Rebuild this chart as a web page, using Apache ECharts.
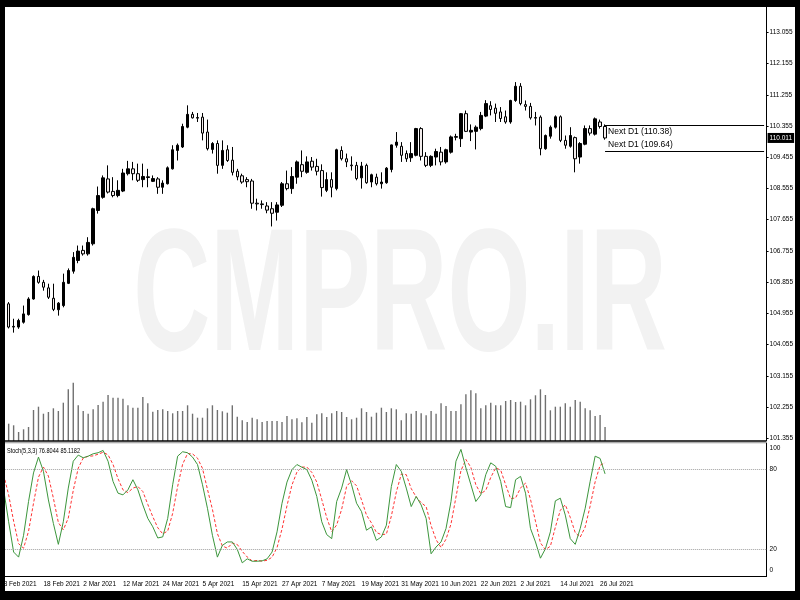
<!DOCTYPE html>
<html><head><meta charset="utf-8">
<script src="https://cdn.jsdelivr.net/npm/echarts@6/dist/echarts.min.js"></script>
<style>html,body{margin:0;padding:0;background:#000}#c{width:800px;height:600px}</style>
</head><body><div id="c"></div><script>
// ---- data (daily bars, 8 Feb 2021 = slot 0) ----
const tickLabels = ['8 Feb 2021','18 Feb 2021','2 Mar 2021','12 Mar 2021','24 Mar 2021','5 Apr 2021','15 Apr 2021','27 Apr 2021','7 May 2021','19 May 2021','31 May 2021','10 Jun 2021','22 Jun 2021','2 Jul 2021','14 Jul 2021','26 Jul 2021'];
const opens = [null,
105.23,104.56,104.56,104.70,104.92,105.37,106.02,105.85,105.69,105.39,
105.06,105.18,105.82,106.17,106.48,106.77,106.67,106.96,107.92,108.30,
108.83,108.47,108.35,108.48,108.98,109.12,108.98,108.81,108.87,108.76,
108.83,108.59,108.69,109.12,109.65,109.75,110.32,110.69,110.60,110.61,
110.18,109.68,109.85,109.22,109.67,109.37,109.05,108.92,108.81,108.77,
108.13,108.11,108.05,107.97,107.87,108.07,108.69,108.55,108.88,109.24,
109.02,109.34,109.19,109.07,108.50,108.81,108.55,109.65,109.41,109.23,
109.22,108.86,109.22,108.74,108.88,108.69,108.72,109.10,109.80,109.77,
109.56,109.44,109.51,110.28,109.48,109.22,109.46,109.60,109.32,109.60,
110.03,109.99,110.71,110.18,110.20,110.28,110.64,110.94,110.87,110.76,
110.62,110.47,111.09,111.50,110.97,110.92,110.60,110.61,109.70,110.06,
110.32,110.62,109.94,109.77,110.02,109.46,109.83,110.28,110.12,110.47,110.34];
const highs = [null,
105.28,104.80,104.80,105.18,105.42,106.05,106.19,105.92,105.81,105.81,
105.28,106.10,106.25,106.72,106.91,106.91,107.15,108.00,108.61,108.93,
109.22,108.88,108.79,109.12,109.35,109.32,109.27,109.27,109.12,108.93,
108.88,108.79,109.19,109.80,109.85,110.42,110.95,110.76,110.73,110.73,
110.54,109.89,109.94,109.94,109.80,109.75,109.12,108.98,108.88,108.83,
108.26,108.21,108.16,108.16,108.16,108.74,109.07,109.17,109.36,109.65,
109.48,109.46,109.41,109.25,109.02,109.02,109.70,109.77,109.56,109.48,
109.32,109.32,109.27,108.98,108.98,109.02,109.17,109.82,110.18,109.89,
109.65,109.89,110.30,110.32,109.60,109.51,109.70,109.75,109.70,110.08,
110.13,110.73,110.80,110.40,110.37,110.76,111.10,111.07,111.00,110.90,
110.80,111.11,111.62,111.59,111.09,111.02,110.76,110.66,110.11,110.37,
110.66,110.66,110.08,110.32,110.05,109.89,110.37,110.37,110.60,110.54,110.40];
const lows = [null,
104.52,104.40,104.51,104.66,104.89,105.35,105.81,105.61,105.37,105.02,
104.89,105.13,105.80,106.10,106.40,106.62,106.62,106.91,107.83,108.26,
108.41,108.30,108.30,108.45,108.93,108.79,108.74,108.59,108.59,108.74,
108.40,108.40,108.67,109.10,109.36,109.72,110.29,110.57,110.47,109.94,
109.65,109.56,108.98,109.12,109.32,108.93,108.79,108.69,108.59,107.97,
107.92,107.97,107.84,107.46,107.63,108.02,108.50,108.40,108.69,108.88,
108.98,109.07,108.93,108.32,108.45,108.30,108.50,109.36,109.17,109.07,
108.79,108.55,108.69,108.59,108.64,108.55,108.69,109.02,109.73,109.32,
109.32,109.32,109.48,109.36,109.17,109.17,109.22,109.22,109.27,109.56,
109.94,109.75,110.18,109.92,109.68,110.23,110.61,110.66,110.47,110.47,
110.42,110.42,111.05,110.95,110.80,110.54,110.37,109.51,109.67,109.99,
110.28,109.89,109.70,109.73,109.02,109.27,109.80,110.08,110.08,110.28,109.96];
const closes = [null,
104.56,104.58,104.75,104.94,105.37,106.02,105.85,105.71,105.42,105.07,
105.25,105.85,106.19,106.57,106.75,106.67,107.00,107.97,108.35,108.86,
108.45,108.35,108.50,109.00,109.12,108.98,108.79,108.90,108.89,108.84,
108.59,108.71,109.15,109.67,109.80,110.34,110.69,110.59,110.58,110.15,
109.70,109.85,109.22,109.65,109.36,109.02,108.89,108.74,108.75,108.13,
108.11,108.09,107.93,107.84,108.08,108.69,108.55,108.90,109.32,109.05,
109.32,109.17,109.05,108.58,108.81,108.59,109.67,109.41,109.32,109.21,
108.84,109.20,108.72,108.95,108.69,108.74,109.14,109.81,109.89,109.51,
109.41,109.56,110.28,109.48,109.22,109.48,109.62,109.32,109.67,110.04,
110.05,110.71,110.20,110.23,110.32,110.66,111.00,110.83,110.72,110.57,
110.47,111.09,111.50,111.00,110.92,110.59,110.58,109.70,110.08,110.32,
110.62,109.94,109.80,110.08,109.41,109.85,110.28,110.15,110.56,110.34,110.01];
const volumes = [null,
17300,15700,9000,11700,14000,31000,34300,27300,29000,32700,
30000,38300,51700,58300,35700,30000,27300,31700,36000,39300,
46000,43300,43300,42300,35700,33300,33300,44000,37700,29300,
31000,31700,30000,27700,30000,30000,35700,27300,23300,23300,
32700,35700,31000,29700,28300,35700,24300,20700,19000,23300,
21700,19000,20000,20000,20000,19000,25000,21700,22700,18700,
24000,18300,26700,27700,24000,27700,30000,29000,24000,21700,
23300,32700,29000,24300,28300,33300,29000,32700,31700,20700,
27700,27300,30000,27700,25700,30000,27300,37700,35000,30000,
30000,36700,46700,50700,47700,32700,35700,38300,35700,35700,
40000,41000,39000,39300,35700,41700,45700,51700,46000,30700,
34300,34300,37700,34300,41000,39300,32700,30700,25000,26000,14000];
const stochK = [
64.8,40.8,18.0,14.2,30.6,56.0,77.5,89.4,78.7,57.2,
39.5,23.8,40.8,66.1,86.3,90.9,88.9,90.1,91.9,92.7,
94.4,86.3,71.1,62.3,61.0,64.8,72.4,64.8,53.4,43.3,
37.0,28.6,29.4,43.3,68.6,90.1,93.4,92.7,89.4,83.8,
68.6,50.9,30.6,14.2,23.0,25.6,25.6,20.0,9.9,12.9,
11.1,11.1,11.4,12.9,18.0,33.2,54.7,70.6,80.0,83.8,
81.8,80.0,72.0,59.8,40.8,31.1,28.1,56.0,66.1,80.0,
68.6,54.7,48.4,34.4,37.0,26.8,29.4,38.2,67.3,83.8,
78.7,66.1,52.2,59.8,53.4,43.3,16.7,21.8,25.6,35.7,
56.0,86.3,95.2,81.3,68.6,56.0,61.0,76.2,85.1,82.5,
71.1,52.2,51.4,72.4,74.9,62.3,35.7,25.6,13.4,20.5,
33.2,56.5,58.5,45.8,28.1,23.8,35.7,50.9,71.1,90.1,88.4,76.8044];
const stochD = [
76.0,61.0,41.2,24.3,20.9,33.6,54.7,74.3,81.9,75.1,
58.5,40.2,34.7,43.6,64.4,81.1,88.7,90.0,90.3,91.6,
93.0,91.1,83.9,73.2,64.8,62.7,66.1,67.3,63.5,53.8,
44.6,36.3,31.7,33.8,47.1,67.3,84.0,92.1,91.8,88.6,
80.9,65.2,50.1,31.9,22.6,20.9,24.7,23.7,18.5,14.3,
11.3,11.7,11.2,11.8,14.1,21.4,35.3,52.8,68.4,78.1,
81.9,81.9,77.9,70.6,57.5,43.9,33.3,38.4,50.1,67.4,
71.6,67.8,57.2,45.8,39.9,32.7,31.1,31.5,45.0,63.1,
76.6,76.2,65.7,59.4,55.1,52.2,37.8,27.3,21.4,27.7,
39.1,59.3,79.2,87.6,81.7,68.6,61.9,64.4,74.1,81.3,
79.6,68.6,58.2,58.7,66.2,69.9,57.6,41.2,24.9,19.8,
22.4,36.7,49.4,53.6,44.1,32.6,29.2,36.8,52.6,70.7,83.2,85.1182];
const priceTicks = [101.355,102.255,103.155,104.055,104.955,105.855,106.755,107.655,108.555,109.455,110.355,111.255,112.155,113.055];
const stochTicks = [0,20,80,100];
const stochLevels = [80,20];
const nextLevels = [110.38,109.64];
const lastPrice = 110.011;
const lastBar = 121;
const stochTitle = 'Stoch(5,3,3) 76.8044 85.1182';
const watermark = 'CMPRO.IR';

// ---- chart ----
const SLOTS = 154;
const cats = Array.from({length: SLOTS}, (_, i) => String(i));
const candles = opens.map((o, i) => o == null ? '-' : [o, closes[i], lows[i], highs[i]]);
const FONT = "'Liberation Sans', Arial, sans-serif";
const AX = 6.5;
const showTick = (i) => i % 8 === 0 && i <= 120;

const chart = echarts.init(document.getElementById('c'), null, {renderer: 'canvas'});
chart.setOption({
  animation: false,
  backgroundColor: '#ffffff',
  grid: [
    {left: 1.2, top: 7, width: SLOTS * 4.97, height: 434},
    {left: 1.2, top: 443, width: SLOTS * 4.97, height: 133}
  ],
  xAxis: [
    {type: 'category', gridIndex: 0, data: cats, boundaryGap: true, show: false},
    {type: 'category', gridIndex: 1, data: cats, boundaryGap: true,
     axisLine: {lineStyle: {color: '#000', width: 1}},
     axisTick: {interval: showTick, alignWithLabel: true, length: 3, lineStyle: {color: '#000'}},
     axisLabel: {interval: showTick, formatter: (v, i) => tickLabels[i / 8] || '', align: 'left',
                 margin: 5, fontSize: AX, color: '#000', fontFamily: FONT, hideOverlap: false},
     splitLine: {show: false}}
  ],
  yAxis: [
    {type: 'value', gridIndex: 0, position: 'right', min: 101.277, max: 113.784,
     axisLine: {show: true, lineStyle: {color: '#000'}},
     axisTick: {show: true, length: 2, customValues: priceTicks, lineStyle: {color: '#000'}},
     axisLabel: {customValues: priceTicks, formatter: v => v.toFixed(3), margin: 3,
                 fontSize: AX, color: '#000', fontFamily: FONT},
     splitLine: {show: false}},
    {type: 'value', gridIndex: 0, min: 0, max: 434000, show: false},
    {type: 'value', gridIndex: 1, position: 'right', min: 0, max: 100,
     axisLine: {show: true, lineStyle: {color: '#000'}},
     axisTick: {show: false},
     axisLabel: {customValues: stochTicks, margin: 3, fontSize: AX, color: '#000', fontFamily: FONT,
                 formatter: v => v === 100 ? '{t|100}' : (v === 0 ? '{b|0}' : String(v)),
                 rich: {t: {padding: [11, 0, 0, 0], fontSize: AX, fontFamily: FONT},
                        b: {padding: [0, 0, 11, 0], fontSize: AX, fontFamily: FONT}}},
     splitLine: {show: false}}
  ],
  graphic: {elements: [
    {type: 'text', x: 400, y: 302, scaleX: 0.61, z: 0, silent: true,
     style: {text: watermark, fill: '#f2f2f2', font: "bold 175px 'Liberation Sans', sans-serif",
             textAlign: 'center', textVerticalAlign: 'middle'}},
    {type: 'text', x: 7, y: 451, scaleX: 0.74, z: 50, silent: true,
     style: {text: stochTitle, fill: '#000', font: "7.5px " + FONT, textVerticalAlign: 'middle'}},
    {type: 'rect', shape: {x: 5, y: 440.3, width: 761, height: 1.5}, z: 60, style: {fill: '#000'}},
    {type: 'rect', shape: {x: 5, y: 442.2, width: 761, height: 1}, z: 60, style: {fill: '#909090'}},
    {type: 'rect', shape: {x: 0, y: 0, width: 800, height: 7}, z: 100, style: {fill: '#000'}},
    {type: 'rect', shape: {x: 0, y: 0, width: 5, height: 600}, z: 100, style: {fill: '#000'}},
    {type: 'rect', shape: {x: 795, y: 0, width: 5, height: 600}, z: 100, style: {fill: '#000'}},
    {type: 'rect', shape: {x: 0, y: 591, width: 800, height: 9}, z: 100, style: {fill: '#000'}}
  ]},
  series: [
    {type: 'bar', name: 'Volume', xAxisIndex: 0, yAxisIndex: 1, data: volumes, barWidth: 1.4,
     itemStyle: {color: '#707070'}, silent: true, z: 1},
    {type: 'candlestick', name: 'Price', xAxisIndex: 0, yAxisIndex: 0, data: candles, barWidth: 3,
     itemStyle: {color: '#000', color0: '#f3eded', borderColor: '#000', borderColor0: '#000', borderWidth: 1},
     silent: true, z: 3,
     markLine: {symbol: 'none', silent: true, animation: false,
       data: [
         [{coord: [lastBar, nextLevels[0]], lineStyle: {color: '#000', width: 1, type: 'solid'},
           label: {show: true, position: 'insideStartBottom', formatter: 'Next D1 (' + nextLevels[0].toFixed(2) + ')',
                   color: '#000', fontSize: 8.5, fontFamily: FONT, distance: [3, 2]}},
          {coord: [SLOTS - 1, nextLevels[0]]}],
         [{coord: [lastBar, nextLevels[1]], lineStyle: {color: '#000', width: 1, type: 'solid'},
           label: {show: true, position: 'insideStartTop', formatter: 'Next D1 (' + nextLevels[1].toFixed(2) + ')',
                   color: '#000', fontSize: 8.5, fontFamily: FONT, distance: [3, 2]}},
          {coord: [SLOTS - 1, nextLevels[1]]}],
         {yAxis: lastPrice, lineStyle: {color: 'rgba(0,0,0,0)', width: 1},
          label: {show: true, position: 'end', distance: 1, formatter: lastPrice.toFixed(3),
                  backgroundColor: '#000', color: '#fff', padding: [2, 2, 1, 2], fontSize: AX, fontFamily: FONT}}
       ]}},
    {type: 'line', name: '%K', xAxisIndex: 1, yAxisIndex: 2, data: stochK, symbol: 'none',
     lineStyle: {color: '#3c963c', width: 1}, itemStyle: {color: '#3c963c'}, silent: true, z: 4,
     markLine: {symbol: 'none', silent: true, label: {show: false},
       lineStyle: {color: '#a0a0a0', type: 'dotted', width: 1},
       data: stochLevels.map(v => ({yAxis: v}))}},
    {type: 'line', name: '%D', xAxisIndex: 1, yAxisIndex: 2, data: stochD, symbol: 'none',
     lineStyle: {color: '#ff3333', width: 1, type: [3, 2]}, itemStyle: {color: '#ff3333'}, silent: true, z: 3}
  ]
});
</script></body></html>
